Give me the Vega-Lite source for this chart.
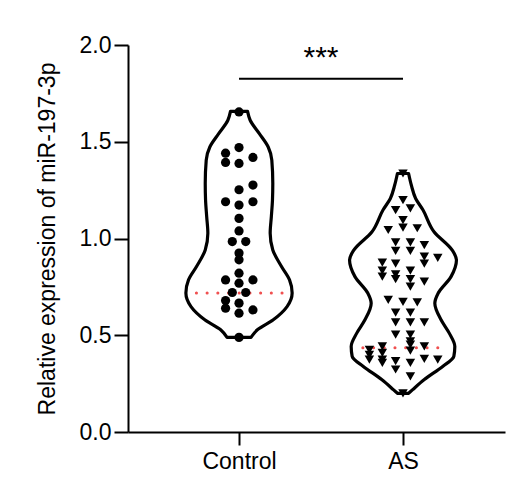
{
  "$schema": "https://vega.github.io/schema/vega-lite/v6.json",
  "width": 377,
  "height": 387,
  "autosize": {"type": "none"},
  "padding": {"left": 128, "top": 45, "right": 26, "bottom": 59},
  "background": "white",
  "config": {
    "view": {"stroke": null},
    "font": "Liberation Sans",
    "axis": {"grid": false, "domainColor": "black", "domainWidth": 2, "tickColor": "black", "tickWidth": 2, "labelColor": "black", "labelFont": "Liberation Sans", "labelFontSize": 23, "titleFont": "Liberation Sans", "titleFontSize": 23, "titleFontWeight": "normal", "titleColor": "black"}
  },
  "datasets": {
    "violin": [
      {"g": "Control", "v": 0.489, "lo": 0.927, "hi": 1.073},
      {"g": "Control", "v": 0.528, "lo": 0.888, "hi": 1.112},
      {"g": "Control", "v": 0.580, "lo": 0.791, "hi": 1.209},
      {"g": "Control", "v": 0.648, "lo": 0.707, "hi": 1.293},
      {"g": "Control", "v": 0.718, "lo": 0.676, "hi": 1.324},
      {"g": "Control", "v": 0.786, "lo": 0.692, "hi": 1.308},
      {"g": "Control", "v": 0.855, "lo": 0.741, "hi": 1.259},
      {"g": "Control", "v": 0.941, "lo": 0.794, "hi": 1.206},
      {"g": "Control", "v": 1.027, "lo": 0.810, "hi": 1.190},
      {"g": "Control", "v": 1.112, "lo": 0.803, "hi": 1.197},
      {"g": "Control", "v": 1.198, "lo": 0.796, "hi": 1.204},
      {"g": "Control", "v": 1.285, "lo": 0.794, "hi": 1.206},
      {"g": "Control", "v": 1.405, "lo": 0.800, "hi": 1.200},
      {"g": "Control", "v": 1.473, "lo": 0.822, "hi": 1.178},
      {"g": "Control", "v": 1.542, "lo": 0.876, "hi": 1.124},
      {"g": "Control", "v": 1.611, "lo": 0.932, "hi": 1.068},
      {"g": "Control", "v": 1.657, "lo": 0.948, "hi": 1.052},
      {"g": "AS", "v": 0.200, "lo": 1.966, "hi": 2.034},
      {"g": "AS", "v": 0.219, "lo": 1.941, "hi": 2.059},
      {"g": "AS", "v": 0.271, "lo": 1.870, "hi": 2.130},
      {"g": "AS", "v": 0.339, "lo": 1.758, "hi": 2.242},
      {"g": "AS", "v": 0.391, "lo": 1.690, "hi": 2.310},
      {"g": "AS", "v": 0.442, "lo": 1.684, "hi": 2.316},
      {"g": "AS", "v": 0.511, "lo": 1.718, "hi": 2.282},
      {"g": "AS", "v": 0.580, "lo": 1.768, "hi": 2.232},
      {"g": "AS", "v": 0.666, "lo": 1.806, "hi": 2.194},
      {"g": "AS", "v": 0.718, "lo": 1.785, "hi": 2.215},
      {"g": "AS", "v": 0.803, "lo": 1.707, "hi": 2.293},
      {"g": "AS", "v": 0.889, "lo": 1.674, "hi": 2.326},
      {"g": "AS", "v": 0.940, "lo": 1.700, "hi": 2.300},
      {"g": "AS", "v": 1.035, "lo": 1.811, "hi": 2.189},
      {"g": "AS", "v": 1.147, "lo": 1.878, "hi": 2.122},
      {"g": "AS", "v": 1.207, "lo": 1.923, "hi": 2.077},
      {"g": "AS", "v": 1.275, "lo": 1.949, "hi": 2.051},
      {"g": "AS", "v": 1.336, "lo": 1.966, "hi": 2.034}
    ],
    "qline": [
      {"g": "Control", "v": 0.718, "x1": 0.74, "x2": 1.265},
      {"g": "AS", "v": 0.436, "x1": 1.755, "x2": 2.26}
    ],
    "pts": [
      {"g": "Control", "x": 1, "v": 1.654},
      {"g": "Control", "x": 1, "v": 1.470},
      {"g": "Control", "x": 0.918, "v": 1.441},
      {"g": "Control", "x": 1.085, "v": 1.419},
      {"g": "Control", "x": 0.918, "v": 1.393},
      {"g": "Control", "x": 1, "v": 1.388},
      {"g": "Control", "x": 1.085, "v": 1.276},
      {"g": "Control", "x": 1, "v": 1.252},
      {"g": "Control", "x": 0.918, "v": 1.190},
      {"g": "Control", "x": 1.085, "v": 1.190},
      {"g": "Control", "x": 1, "v": 1.173},
      {"g": "Control", "x": 1, "v": 1.104},
      {"g": "Control", "x": 1, "v": 1.039},
      {"g": "Control", "x": 0.959, "v": 0.984},
      {"g": "Control", "x": 1.041, "v": 0.984},
      {"g": "Control", "x": 1, "v": 0.925},
      {"g": "Control", "x": 1, "v": 0.890},
      {"g": "Control", "x": 1, "v": 0.821},
      {"g": "Control", "x": 0.918, "v": 0.786},
      {"g": "Control", "x": 1.085, "v": 0.786},
      {"g": "Control", "x": 1, "v": 0.769},
      {"g": "Control", "x": 0.959, "v": 0.721},
      {"g": "Control", "x": 1.041, "v": 0.721},
      {"g": "Control", "x": 0.918, "v": 0.679},
      {"g": "Control", "x": 1, "v": 0.666},
      {"g": "Control", "x": 0.918, "v": 0.640},
      {"g": "Control", "x": 1.085, "v": 0.631},
      {"g": "Control", "x": 1, "v": 0.614},
      {"g": "Control", "x": 1, "v": 0.489},
      {"g": "AS", "x": 2, "v": 1.336},
      {"g": "AS", "x": 2, "v": 1.198},
      {"g": "AS", "x": 1.955, "v": 1.147},
      {"g": "AS", "x": 2.045, "v": 1.156},
      {"g": "AS", "x": 2, "v": 1.095},
      {"g": "AS", "x": 1.910, "v": 1.044},
      {"g": "AS", "x": 2, "v": 1.056},
      {"g": "AS", "x": 2.087, "v": 1.053},
      {"g": "AS", "x": 1.955, "v": 0.980},
      {"g": "AS", "x": 2.045, "v": 0.980},
      {"g": "AS", "x": 2.130, "v": 0.966},
      {"g": "AS", "x": 1.955, "v": 0.936},
      {"g": "AS", "x": 2.045, "v": 0.936},
      {"g": "AS", "x": 2.130, "v": 0.906},
      {"g": "AS", "x": 2.212, "v": 0.900},
      {"g": "AS", "x": 2.130, "v": 0.870},
      {"g": "AS", "x": 1.874, "v": 0.875},
      {"g": "AS", "x": 1.874, "v": 0.834},
      {"g": "AS", "x": 1.874, "v": 0.803},
      {"g": "AS", "x": 1.955, "v": 0.870},
      {"g": "AS", "x": 1.955, "v": 0.815},
      {"g": "AS", "x": 1.955, "v": 0.790},
      {"g": "AS", "x": 2.045, "v": 0.834},
      {"g": "AS", "x": 2.045, "v": 0.790},
      {"g": "AS", "x": 2.045, "v": 0.751},
      {"g": "AS", "x": 2.130, "v": 0.777},
      {"g": "AS", "x": 1.910, "v": 0.683},
      {"g": "AS", "x": 2, "v": 0.673},
      {"g": "AS", "x": 2.087, "v": 0.670},
      {"g": "AS", "x": 1.955, "v": 0.617},
      {"g": "AS", "x": 1.955, "v": 0.566},
      {"g": "AS", "x": 2.045, "v": 0.617},
      {"g": "AS", "x": 2.045, "v": 0.566},
      {"g": "AS", "x": 2.130, "v": 0.566},
      {"g": "AS", "x": 1.955, "v": 0.503},
      {"g": "AS", "x": 2.045, "v": 0.503},
      {"g": "AS", "x": 2.045, "v": 0.468},
      {"g": "AS", "x": 2.045, "v": 0.451},
      {"g": "AS", "x": 1.795, "v": 0.425},
      {"g": "AS", "x": 1.795, "v": 0.399},
      {"g": "AS", "x": 1.795, "v": 0.374},
      {"g": "AS", "x": 1.874, "v": 0.443},
      {"g": "AS", "x": 1.874, "v": 0.409},
      {"g": "AS", "x": 1.874, "v": 0.374},
      {"g": "AS", "x": 1.874, "v": 0.357},
      {"g": "AS", "x": 1.955, "v": 0.366},
      {"g": "AS", "x": 1.955, "v": 0.323},
      {"g": "AS", "x": 2.045, "v": 0.421},
      {"g": "AS", "x": 2.045, "v": 0.357},
      {"g": "AS", "x": 2.045, "v": 0.288},
      {"g": "AS", "x": 2.130, "v": 0.443},
      {"g": "AS", "x": 2.130, "v": 0.378},
      {"g": "AS", "x": 2.212, "v": 0.374},
      {"g": "AS", "x": 2, "v": 0.200}
    ],
    "sig": [{"x1": 1, "x2": 2, "v": 1.826, "label": "***", "xm": 1.5, "vt": 1.885}]
  },
  "layer": [
    {
      "data": {"name": "violin"},
      "mark": {"type": "area", "orient": "horizontal", "interpolate": "monotone", "fill": "white", "stroke": "black", "strokeWidth": 3.2, "strokeJoin": "round"},
      "encoding": {
        "y": {"field": "v", "type": "quantitative", "title": "Relative expression of miR-197-3p", "scale": {"domain": [0, 2], "nice": false, "zero": false}, "axis": {"values": [0, 0.5, 1, 1.5, 2], "format": ".1f", "tickSize": 14, "labelPadding": 3, "titlePadding": 20}},
        "x": {"field": "lo", "type": "quantitative", "title": null, "scale": {"domain": [0.323, 2.622], "nice": false, "zero": false}, "axis": {"values": [1, 2], "labelExpr": "datum.value == 1 ? 'Control' : 'AS'", "tickSize": 13, "labelPadding": 5}},
        "x2": {"field": "hi"},
        "detail": {"field": "g", "type": "nominal"}
      }
    },
    {
      "data": {"name": "qline"},
      "mark": {"type": "rule", "color": "#f05050", "strokeWidth": 3, "strokeCap": "round", "strokeDash": [0.1, 10.6]},
      "encoding": {
        "y": {"field": "v", "type": "quantitative", "title": "Relative expression of miR-197-3p"},
        "x": {"field": "x1", "type": "quantitative", "title": null},
        "x2": {"field": "x2"}
      }
    },
    {
      "data": {"name": "pts"},
      "mark": {"type": "point", "filled": true, "opacity": 1, "color": "black"},
      "encoding": {
        "y": {"field": "v", "type": "quantitative", "title": "Relative expression of miR-197-3p"},
        "x": {"field": "x", "type": "quantitative", "title": null},
        "shape": {"field": "g", "type": "nominal", "scale": {"domain": ["Control", "AS"], "range": ["circle", "triangle-down"]}, "legend": null},
        "size": {"field": "g", "type": "nominal", "scale": {"domain": ["Control", "AS"], "range": [85, 90]}, "legend": null}
      }
    },
    {
      "data": {"name": "sig"},
      "mark": {"type": "rule", "color": "black", "strokeWidth": 2},
      "encoding": {
        "y": {"field": "v", "type": "quantitative", "title": "Relative expression of miR-197-3p"},
        "x": {"field": "x1", "type": "quantitative", "title": null},
        "x2": {"field": "x2"}
      }
    },
    {
      "data": {"name": "sig"},
      "mark": {"type": "text", "fontSize": 30, "font": "Liberation Sans", "color": "black", "baseline": "alphabetic", "align": "center"},
      "encoding": {
        "y": {"field": "vt", "type": "quantitative", "title": "Relative expression of miR-197-3p"},
        "x": {"field": "xm", "type": "quantitative", "title": null},
        "text": {"field": "label"}
      }
    }
  ]
}
